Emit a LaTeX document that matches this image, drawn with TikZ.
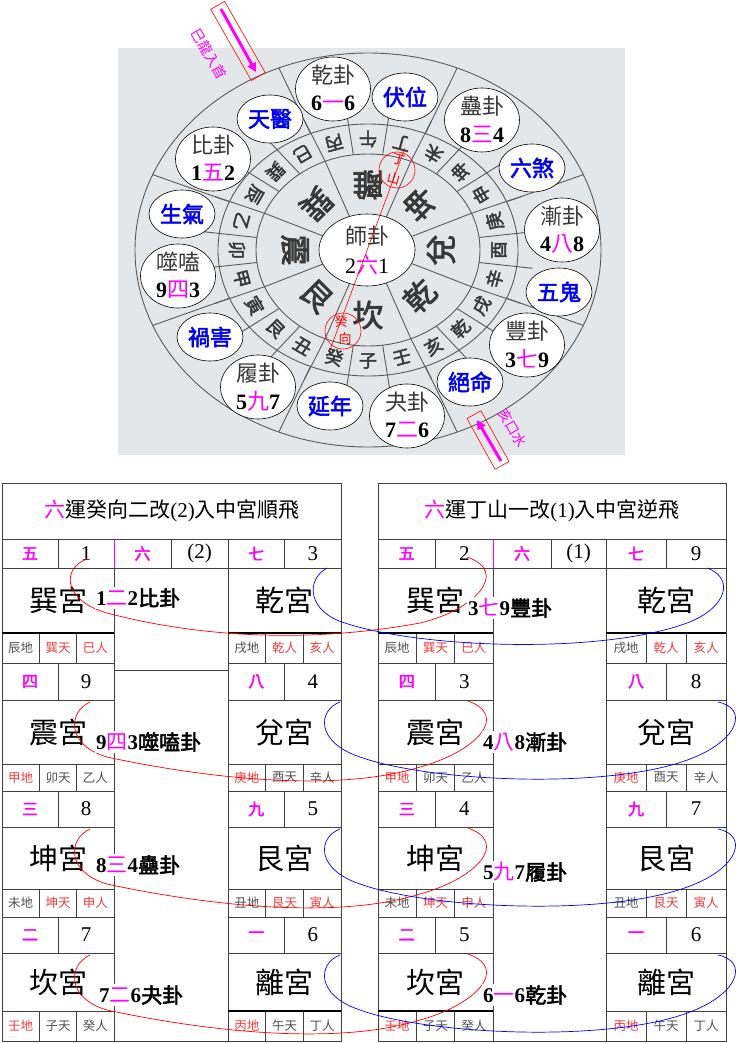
\documentclass[tikz,border=0pt]{standalone}
\usepackage{fontspec}
\setmainfont{Liberation Serif}
\newfontfamily\cjk{Noto Sans CJK TC}
\newfontfamily\cjkb{Noto Sans CJK TC}[FakeBold=2.5]
\usetikzlibrary{shapes.geometric,arrows.meta}
\definecolor{mag}{HTML}{FF00FF}
\definecolor{rd}{HTML}{F03C3C}
\definecolor{gtx}{HTML}{505050}
\definecolor{tline}{HTML}{404040}
\definecolor{bgg}{HTML}{E4E7EA}
\definecolor{cline}{HTML}{5A5A5A}
\definecolor{ctext}{HTML}{383838}
\definecolor{stblue}{HTML}{0000F0}
\newcommand\redt[1]{{\color{rd}#1}}
\newcommand\grayt[1]{{\color{gtx}#1}}
\newcommand\rowys[1]{\ifcase#1\relax
 \def\pya{539}\def\pyb{568}\def\pyc{633}\def\pyd{663}\or
 \def\pya{663}\def\pyb{700}\def\pyc{764}\def\pyd{791}\or
 \def\pya{791}\def\pyb{827}\def\pyc{889}\def\pyd{917}\or
 \def\pya{917}\def\pyb{953}\def\pyc{1011}\def\pyd{1041}\fi}
\newcommand\pal[9]{%
 \rowys{#3}%
 \draw[tl] (#2,\pya) rectangle ({#2+\bw},\pyd);
 \draw[tl] (#2,\pyb) -- ({#2+\bw},\pyb);
 \draw[tl] (#2,\pyc) -- ({#2+\bw},\pyc);
 \draw[tl] ({#2+\bw/2},\pya) -- ({#2+\bw/2},\pyb);
 \draw[tl] ({#2+\bw/3},\pyc) -- ({#2+\bw/3},\pyd);
 \draw[tl] ({#2+2*\bw/3},\pyc) -- ({#2+2*\bw/3},\pyd);
 \node[numl] (#1-a) at ({#2+\bw/4},{(\pya+\pyb)/2}) {#4};
 \node[numr] (#1-b) at ({#2+3*\bw/4},{(\pya+\pyb)/2}) {#5};
 \node[palt] (#1-p) at ({#2+\bw/2},{(\pyb+\pyc)/2}) {#6};
 \node[subt] (#1-s1) at ({#2+\bw/6},{(\pyc+\pyd)/2}) {#7};
 \node[subt] (#1-s2) at ({#2+\bw/2},{(\pyc+\pyd)/2}) {#8};
 \node[subt] (#1-s3) at ({#2+5*\bw/6},{(\pyc+\pyd)/2}) {#9};
}
\newcommand\guac[7]{%
 \node[guaell] (#1) at (#2,#3) {};
 \node[guatit] (#1-t) at (#2,{#3-14}) {#4};
 \node[guanum] (#1-n) at (#2,{#3+14}) {#5{\cjk\mdseries\color{mag}#6}#7};
}
\newcommand\redk[2]{%
 \begin{scope}[shift={(0,#2)}]
 \coordinate (rs#1) at (90,702); \coordinate (re#1) at (468,701);
 \draw[rcurve] (rs#1) .. controls (68,712) and (66,745) .. (107,757) .. controls (190,775) and (330,795) .. (420,767) .. controls (475,752) and (510,716) .. (re#1);
 \end{scope}}
\newcommand\bluek[2]{%
 \begin{scope}[shift={(0,#2)}]
 \coordinate (bs#1) at (340,702); \coordinate (be#1) at (718,702);
 \draw[bcurve] (bs#1) .. controls (318,710) and (315,742) .. (360,757) .. controls (430,782) and (610,790) .. (690,759) .. controls (740,740) and (748,708) .. (be#1);
 \end{scope}}
\tikzset{
 tl/.style={draw=tline,line width=0.8pt},
 cl/.style={draw=cline,line width=0.9pt},
 mtn/.style={font=\cjkb\fontsize{18}{18}\selectfont,text=ctext,inner sep=0pt},
 tri/.style={font=\cjkb\fontsize{31}{31}\selectfont,text=ctext,inner sep=0pt},
 guaell/.style={ellipse,draw=black,line width=0.6pt,fill=white,minimum width=75pt,minimum height=64pt,inner sep=0pt},
 guatit/.style={font=\cjk\fontsize{22}{22}\selectfont,text=ctext,inner sep=0pt},
 guanum/.style={font=\bfseries\fontsize{22}{22}\selectfont,inner sep=0pt},
 starell/.style={ellipse,draw=black,line width=0.6pt,fill=white,minimum width=66pt,minimum height=48pt,inner sep=0pt,text=stblue,font=\cjkb\fontsize{22}{22}\selectfont},
 numl/.style={font=\cjkb\fontsize{16}{16}\selectfont,text=mag,inner sep=0pt},
 numr/.style={font=\fontsize{21}{21}\selectfont,inner sep=0pt},
 palt/.style={font=\cjk\fontsize{29}{29}\selectfont,inner sep=0pt},
 subt/.style={font=\cjk\fontsize{12.5}{13}\selectfont,inner sep=0pt},
 hexa/.style={anchor=west,fill=white,inner sep=1pt,font=\fontsize{21}{21}\selectfont},
 ttl/.style={font=\cjk\fontsize{21}{21}\selectfont,inner sep=0pt},
 rcurve/.style={draw=red,line width=0.7pt},
 bcurve/.style={draw=blue,line width=0.7pt},
 marrow/.style={draw=mag,line width=3pt,-{Triangle[length=9pt,width=9pt]}},
 rbox/.style={draw=red,line width=0.6pt,inner sep=0pt},
 mlab/.style={text=mag,font=\cjk\fontsize{14}{14}\selectfont,inner sep=0pt},
 redlab/.style={text=red,font=\cjk\fontsize{13}{13}\selectfont,inner sep=0pt}
}
\begin{document}
\begin{tikzpicture}[x=1pt,y=-1pt]
\useasboundingbox (0,0) rectangle (737,1043);
\fill[white] (0,0) rectangle (737,1043);
% ---------------- compass ----------------
\fill[bgg] (118,48) rectangle (625,455);
\def\cx{368}\def\cy{250}
\draw[cl] (\cx,\cy) ellipse [x radius=233pt, y radius=197pt];
\draw[cl] (\cx,\cy) ellipse [x radius=150pt, y radius=126pt];
\draw[cl] (\cx,\cy) ellipse [x radius=112pt, y radius=96pt];
\foreach \a in {22.5,67.5,...,337.5}{
  \draw[cl] ({\cx+48*cos(\a)},{\cy-36*sin(\a)}) -- ({\cx+112*cos(\a)},{\cy-96*sin(\a)});
  \draw[cl] ({\cx+150*cos(\a)},{\cy-126*sin(\a)}) -- ({\cx+233*cos(\a)},{\cy-197*sin(\a)});
}
\foreach \i in {0,...,23}{
  \pgfmathsetmacro\a{7.5+15*\i}
  \draw[cl] ({\cx+112*cos(\a)},{\cy-96*sin(\a)}) -- ({\cx+166*cos(\a)},{\cy-140*sin(\a)});
}
\foreach \n [count=\i from 0] in {子,癸,丑,艮,寅,甲,卯,乙,辰,巽,巳,丙,午,丁,未,坤,申,庚,酉,辛,戌,乾,亥,壬}{
  \pgfmathsetmacro\a{270-15*\i}
  \node[mtn,rotate=\a+90] (mt\i) at ({\cx+131*cos(\a)},{\cy-111*sin(\a)}) {\n};
}
\foreach \n [count=\i from 0] in {坎,艮,震,巽,離,坤,兌,乾}{
  \pgfmathsetmacro\a{270-45*\i}
  \node[tri,rotate=\a+90] (tg\i) at ({\cx+73*cos(\a)},{\cy-65*sin(\a)}) {\n};
}
\node[ellipse,draw=black,line width=0.6pt,fill=white,minimum width=96pt,minimum height=72pt,inner sep=0pt] (ctr) at (367,250) {};
\node[guatit] (ctr-t) at (367,236) {師卦};
\node[font=\fontsize{22}{22}\selectfont,inner sep=0pt] (ctr-n) at (367,265) {2{\cjk\color{mag}六}1};
% gua circles and stars
\guac{gBi}{213}{159}{比卦}{1}{五}{2}
\node[starell] (sTY) at (270,119) {天醫};
\node[starell] (sSQ) at (182,214) {生氣};
\guac{gSH}{178}{276}{噬嗑}{9}{四}{3}
\node[starell] (sHH) at (210,337) {禍害};
\guac{gLu}{258}{387}{履卦}{5}{九}{7}
\node[starell] (sYN) at (330,406) {延年};
\guac{gGuai}{407}{416}{夬卦}{7}{二}{6}
\node[starell] (sJM) at (470,382) {絕命};
\guac{gFeng}{527}{345}{豐卦}{3}{七}{9}
\node[starell] (sWG) at (559,292) {五鬼};
\guac{gJian}{562}{230}{漸卦}{4}{八}{8}
\node[starell] (sLS) at (532,168) {六煞};
\guac{gGu}{482}{120}{蠱卦}{8}{三}{4}
\node[starell] (sFW) at (405,97) {伏位};
\guac{gQian}{333}{89}{乾卦}{6}{一}{6}
% red axis
\node[circle,draw=red,line width=0.6pt,minimum size=36pt,inner sep=0pt] (dingC) at (397,170) {};
\node[circle,draw=red,line width=0.6pt,minimum size=36pt,inner sep=0pt] (guiC) at (343,331) {};
\node[redlab,rotate=-15] (dingT1) at (399,160) {丁};
\node[redlab,rotate=-15] (dingT2) at (394,178) {山};
\node[redlab] (guiT1) at (341,322) {癸};
\node[redlab] (guiT2) at (345,339) {向};
\coordinate (rlTop) at (405,148);
\coordinate (rlBot) at (330,350);
\draw[red,line width=0.6pt] (rlTop) -- (rlBot);
% arrows
\node[rbox,rotate=-60.3,minimum width=82pt,minimum height=16pt] (boxA) at (238,41) {};
\coordinate (arA1) at (221,9); \coordinate (arA2) at (256,72);
\draw[marrow] (arA1) -- (arA2);
\node[mlab,rotate=-60.3] (labA) at (209,54) {巳龍入首};
\node[rbox,rotate=-61,minimum width=58pt,minimum height=16pt] (boxB) at (488,440) {};
\coordinate (arB1) at (501,461); \coordinate (arB2) at (477,420);
\draw[marrow] (arB1) -- (arB2);
\node[mlab,rotate=-60] (labB) at (513,428) {亥口水};
% ---------------- left table ----------------
\draw[tl] (2,483) rectangle (341,539);
\node[ttl] (LT) at (172,511) {{\color{mag}六}運癸向二改{\rmfamily(2)}入中宮順飛};
\def\bw{112}
\pal{LXun}{2}{0}{五}{1}{巽宮}{\grayt{辰地}}{\redt{巽天}}{\redt{巳人}}
\pal{LZhen}{2}{1}{四}{9}{震宮}{\redt{甲地}}{\grayt{卯天}}{\grayt{乙人}}
\pal{LKun}{2}{2}{三}{8}{坤宮}{\grayt{未地}}{\redt{坤天}}{\redt{申人}}
\pal{LKan}{2}{3}{二}{7}{坎宮}{\redt{壬地}}{\grayt{子天}}{\grayt{癸人}}
\def\bw{113}
\pal{LQian}{228}{0}{七}{3}{乾宮}{\grayt{戌地}}{\redt{乾人}}{\redt{亥人}}
\pal{LDui}{228}{1}{八}{4}{兌宮}{\redt{庚地}}{\grayt{酉天}}{\grayt{辛人}}
\pal{LGen}{228}{2}{九}{5}{艮宮}{\grayt{丑地}}{\redt{艮天}}{\redt{寅人}}
\pal{LLi}{228}{3}{一}{6}{離宮}{\redt{丙地}}{\grayt{午天}}{\grayt{丁人}}
\draw[tl] (114,539) rectangle (228,568);
\draw[tl] (171,539) -- (171,568);
\draw[tl] (114,568) rectangle (228,670);
\draw[tl] (114,670) rectangle (228,1041);
\draw[draw=mag,line width=0.8pt] (114,539) -- (114,568);
\node[numl] (LM-a) at (142.5,553.5) {六};
\node[numr] (LM-b) at (199.5,553.5) {(2)};
\draw[line width=2pt] (2,633) -- (114,633);
\draw[line width=2pt] (228,633) -- (341,633);
\draw[line width=1.4pt] (228,1011) -- (341,1011);
% ---------------- right table ----------------
\draw[tl] (378,483) rectangle (726,539);
\node[ttl] (RT) at (552,511) {{\color{mag}六}運丁山一改{\rmfamily(1)}入中宮逆飛};
\def\bw{115}
\pal{RXun}{378}{0}{五}{2}{巽宮}{\grayt{辰地}}{\redt{巽天}}{\redt{巳人}}
\pal{RZhen}{378}{1}{四}{3}{震宮}{\redt{甲地}}{\grayt{卯天}}{\grayt{乙人}}
\pal{RKun}{378}{2}{三}{4}{坤宮}{\grayt{未地}}{\redt{坤天}}{\redt{申人}}
\pal{RKan}{378}{3}{二}{5}{坎宮}{\redt{壬地}}{\grayt{子天}}{\grayt{癸人}}
\def\bw{120}
\pal{RQian}{606}{0}{七}{9}{乾宮}{\grayt{戌地}}{\redt{乾人}}{\redt{亥人}}
\pal{RDui}{606}{1}{八}{8}{兌宮}{\redt{庚地}}{\grayt{酉天}}{\grayt{辛人}}
\pal{RGen}{606}{2}{九}{7}{艮宮}{\grayt{丑地}}{\redt{艮天}}{\redt{寅人}}
\pal{RLi}{606}{3}{一}{6}{離宮}{\redt{丙地}}{\grayt{午天}}{\grayt{丁人}}
\draw[tl] (493,539) rectangle (606,568);
\draw[tl] (551,539) -- (551,568);
\draw[tl] (493,568) rectangle (606,1041);
\draw[draw=mag,line width=0.8pt] (493,539) -- (493,568);
\node[numl] (RM-a) at (522,553.5) {六};
\node[numr] (RM-b) at (578.5,553.5) {(1)};
\draw[line width=2pt] (378,633) -- (493,633);
\draw[line width=2pt] (606,633) -- (726,633);
\draw[line width=1.4pt] (378,1011) -- (493,1011);
% ---------------- flight curves ----------------
\coordinate (rs0) at (87,559); \coordinate (re0) at (467,557);
\draw[rcurve] (rs0) .. controls (62,568) and (62,600) .. (107,613) .. controls (190,635) and (300,645) .. (420,623) .. controls (475,610) and (510,572) .. (re0);
\redk{1}{0}
\redk{2}{127}
\redk{3}{253}
\coordinate (bs0) at (327,568); \coordinate (be0) at (707,568);
\draw[bcurve] (bs0) .. controls (305,580) and (308,612) .. (345,623) .. controls (420,648) and (600,655) .. (687,623) .. controls (727,608) and (735,578) .. (be0);
\bluek{1}{0}
\bluek{2}{127}
\bluek{3}{253}
% ---------------- hexagram texts ----------------
\node[hexa] (hxL0) at (95,598) {{\bfseries 1}{\cjk\color{mag}二}{\bfseries 2}{\cjkb 比卦}};
\node[hexa] (hxL1) at (95,742) {{\bfseries 9}{\cjk\color{mag}四}{\bfseries 3}{\cjkb 噬嗑卦}};
\node[hexa] (hxL2) at (95,865) {{\bfseries 8}{\cjk\color{mag}三}{\bfseries 4}{\cjkb 蠱卦}};
\node[hexa] (hxL3) at (98,995) {{\bfseries 7}{\cjk\color{mag}二}{\bfseries 6}{\cjkb 夬卦}};
\node[hexa] (hxR0) at (467,608) {{\bfseries 3}{\cjk\color{mag}七}{\bfseries 9}{\cjkb 豐卦}};
\node[hexa] (hxR1) at (482,742) {{\bfseries 4}{\cjk\color{mag}八}{\bfseries 8}{\cjkb 漸卦}};
\node[hexa] (hxR2) at (482,872) {{\bfseries 5}{\cjk\color{mag}九}{\bfseries 7}{\cjkb 履卦}};
\node[hexa] (hxR3) at (482,995) {{\bfseries 6}{\cjk\color{mag}一}{\bfseries 6}{\cjkb 乾卦}};
\end{tikzpicture}
\end{document}
